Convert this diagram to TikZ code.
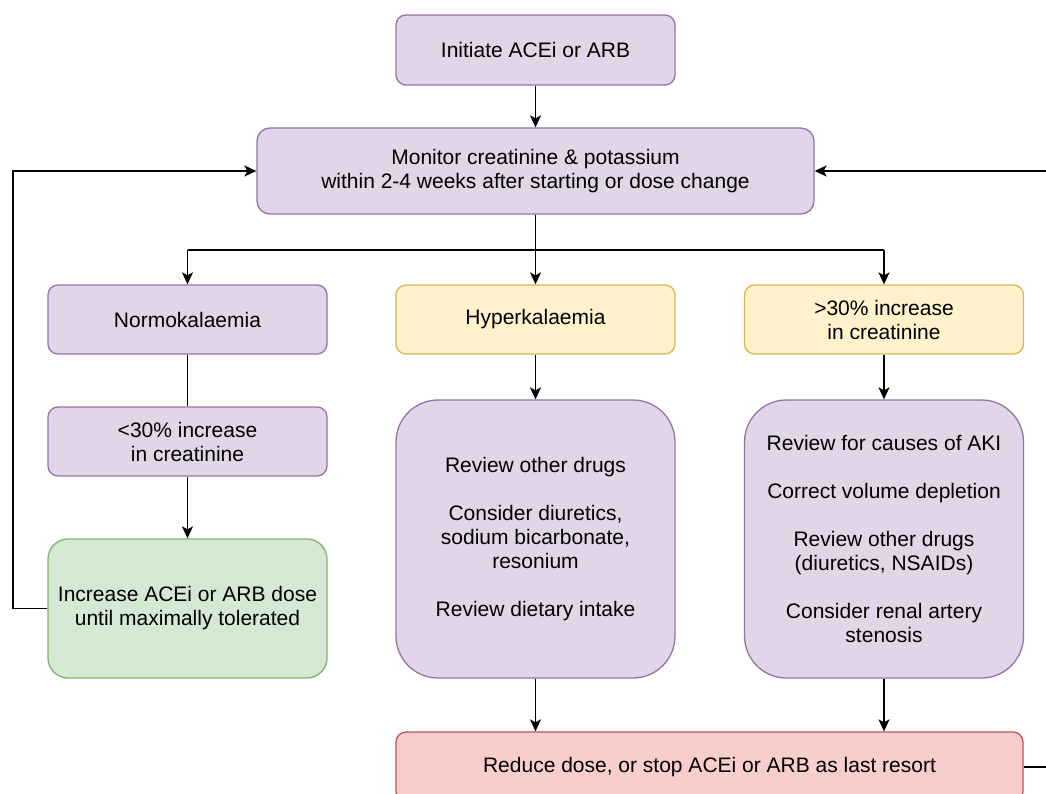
\documentclass[tikz,border=0pt]{standalone}
\usepackage{fontspec}
\setmainfont{Liberation Sans}
\usetikzlibrary{arrows.meta}
\definecolor{pfill}{HTML}{E1D5E7}
\definecolor{pdraw}{HTML}{9673A6}
\definecolor{yfill}{HTML}{FFF2CC}
\definecolor{ydraw}{HTML}{D6B656}
\definecolor{gfill}{HTML}{D5E8D4}
\definecolor{gdraw}{HTML}{82B366}
\definecolor{rfill}{HTML}{F8CECC}
\definecolor{rdraw}{HTML}{B85450}
\newcommand\diagfont{\fontsize{21}{24}\selectfont}
\begin{document}
\begin{tikzpicture}[x=1pt,y=-1pt,
  box/.style={draw, rounded corners=10pt, line width=1.3pt, align=center, inner sep=0pt, font=\diagfont, text=black},
  pbox/.style={box, fill=pfill, draw=pdraw},
  ybox/.style={box, fill=yfill, draw=ydraw},
  gbox/.style={box, fill=gfill, draw=gdraw},
  rbox/.style={box, fill=rfill, draw=rdraw},
  conn/.style={line width=1.6pt, black},
  arr/.style={conn, -{Stealth[length=12pt,width=11pt,inset=3pt]}}
]
\useasboundingbox (0,0) rectangle (1046,794);
\clip (0,0) rectangle (1046,794);

\node[pbox, minimum width=279pt, minimum height=70pt] (init) at (535.5,50) {Initiate ACEi or ARB};
\node[pbox, minimum width=557pt, minimum height=86pt, rounded corners=13pt] (mon) at (535.5,171) {Monitor creatinine \& potassium\\within 2-4 weeks after starting or dose change};
\node[pbox, minimum width=279pt, minimum height=69pt] (normo) at (187.5,319.5) {Normokalaemia};
\node[ybox, minimum width=279pt, minimum height=69pt] (hyper) at (535.5,319.5) {Hyperkalaemia};
\node[ybox, minimum width=279pt, minimum height=69pt] (creat) at (884,319.5) {\textgreater30\% increase\\in creatinine};
\node[pbox, minimum width=279pt, minimum height=69pt] (lt30) at (187.5,441.5) {\textless30\% increase\\in creatinine};
\node[gbox, minimum width=279pt, minimum height=139pt, rounded corners=20pt] (incr) at (187.5,608.5) {Increase ACEi or ARB dose\\until maximally tolerated};
\node[pbox, minimum width=279pt, minimum height=278pt, rounded corners=42pt] (revh) at (535.5,539) {Review other drugs\\[24pt]Consider diuretics,\\sodium bicarbonate,\\resonium\\[24pt]Review dietary intake};
\node[pbox, minimum width=279pt, minimum height=278pt, rounded corners=42pt] (revc) at (884,539) {Review for causes of AKI\\[24pt]Correct volume depletion\\[24pt]Review other drugs\\(diuretics, NSAIDs)\\[24pt]Consider renal artery\\stenosis};
\node[rbox, minimum width=627pt, minimum height=70pt] (red) at (709.5,767) {Reduce dose, or stop ACEi or ARB as last resort};

\coordinate (jL) at (187.5,250);
\coordinate (jR) at (884,250);
\coordinate (lb) at (13,608.5);
\coordinate (lt) at (13,171);
\coordinate (rb) at (1070,767);
\coordinate (rt) at (1070,171);

\draw[arr] (init) -- (mon);
\draw[arr] (mon) -- (hyper);
\draw[conn] (jL) -- (jR);
\draw[arr] (jL) -- (normo);
\draw[arr] (jR) -- (creat);
\draw[conn] (normo) -- (lt30);
\draw[arr] (lt30) -- (incr);
\draw[arr] (hyper) -- (revh);
\draw[arr] (creat) -- (revc);
\draw[arr] (revh) -- (revh |- red.north);
\draw[arr] (revc) -- (revc |- red.north);
\draw[arr] (incr.west) -- (lb) -- (lt) -- (mon.west);
\draw[arr] (red.east) -- (rb) -- (rt) -- (mon.east);
\end{tikzpicture}
\end{document}
